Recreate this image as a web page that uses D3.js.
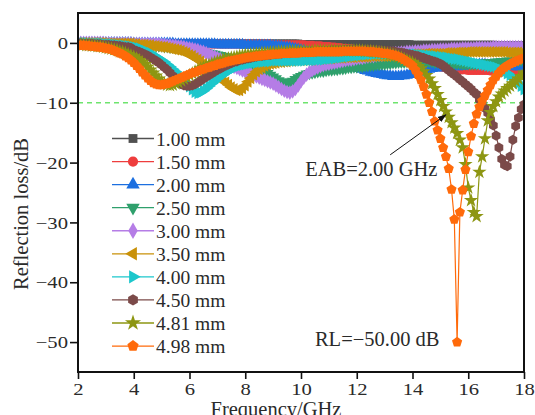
<!DOCTYPE html>
<html>
<head>
<meta charset="utf-8">
<script src="https://cdn.jsdelivr.net/npm/d3@7"></script>
<style>
  body { margin: 0; background: #fff; }
  svg { display: block; font-family: "Liberation Serif", "Times New Roman", serif; }
  .axis text { font-family: "Liberation Serif", serif; font-size: 17.5px; fill: #2a2a2a; transform-box: fill-box; transform: scaleX(1.18); }
  .y-axis text { transform-origin: right center; }
  .x-axis text { transform-origin: center; }
  .axis path, .axis line { stroke: #111; stroke-width: 1.6px; }
  .axis-title { font-size: 20.5px; fill: #2a2a2a; }
  .legend text { font-size: 19.5px; fill: #2a2a2a; }
  .note { font-size: 20.5px; fill: #2a2a2a; }
</style>
</head>
<body>
<div id="chart"></div>
<script>
// frequency sweep (GHz)
const freq = [
  2.0, 2.1, 2.2, 2.3, 2.4, 2.5, 2.6, 2.7, 2.8, 2.9,
  3.0, 3.1, 3.2, 3.3, 3.4, 3.5, 3.6, 3.7, 3.8, 3.9,
  4.0, 4.1, 4.2, 4.3, 4.4, 4.5, 4.6, 4.7, 4.8, 4.9,
  5.0, 5.1, 5.2, 5.3, 5.4, 5.5, 5.6, 5.7, 5.8, 5.9,
  6.0, 6.1, 6.2, 6.3, 6.4, 6.5, 6.6, 6.7, 6.8, 6.9,
  7.0, 7.1, 7.2, 7.3, 7.4, 7.5, 7.6, 7.7, 7.8, 7.9,
  8.0, 8.1, 8.2, 8.3, 8.4, 8.5, 8.6, 8.7, 8.8, 8.9,
  9.0, 9.1, 9.2, 9.3, 9.4, 9.5, 9.6, 9.7, 9.8, 9.9,
  10.0, 10.1, 10.2, 10.3, 10.4, 10.5, 10.6, 10.7, 10.8, 10.9,
  11.0, 11.1, 11.2, 11.3, 11.4, 11.5, 11.6, 11.7, 11.8, 11.9,
  12.0, 12.1, 12.2, 12.3, 12.4, 12.5, 12.6, 12.7, 12.8, 12.9,
  13.0, 13.1, 13.2, 13.3, 13.4, 13.5, 13.6, 13.7, 13.8, 13.9,
  14.0, 14.1, 14.2, 14.3, 14.4, 14.5, 14.6, 14.7, 14.8, 14.9,
  15.0, 15.1, 15.2, 15.3, 15.4, 15.5, 15.6, 15.7, 15.8, 15.9,
  16.0, 16.1, 16.2, 16.3, 16.4, 16.5, 16.6, 16.7, 16.8, 16.9,
  17.0, 17.1, 17.2, 17.3, 17.4, 17.5, 17.6, 17.7, 17.8, 17.9,
  18.0
];

// reflection loss (dB) for each thickness
const rl100 = [
  0, 0, 0, 0, 0, 0, 0, 0, 0, 0,
  0, 0, 0, 0, 0, 0, 0, 0, 0, 0,
  -0.1, -0.1, -0.1, -0.1, -0.1, -0.1, -0.1, -0.1, -0.1, -0.1,
  -0.1, -0.1, -0.1, -0.1, -0.1, -0.1, -0.1, -0.1, -0.1, -0.1,
  -0.1, -0.1, -0.1, -0.1, -0.1, -0.1, -0.1, -0.1, -0.1, -0.1,
  -0.1, -0.1, -0.1, -0.1, -0.1, -0.1, -0.1, -0.1, -0.1, -0.1,
  -0.1, -0.1, -0.1, -0.1, -0.1, -0.1, -0.1, -0.1, -0.1, -0.1,
  -0.1, -0.1, -0.1, -0.1, -0.1, -0.1, -0.1, -0.1, -0.1, -0.1,
  -0.2, -0.2, -0.2, -0.2, -0.2, -0.2, -0.2, -0.2, -0.2, -0.2,
  -0.2, -0.2, -0.2, -0.2, -0.2, -0.2, -0.2, -0.2, -0.2, -0.2,
  -0.2, -0.2, -0.2, -0.2, -0.2, -0.2, -0.2, -0.2, -0.2, -0.2,
  -0.2, -0.2, -0.2, -0.2, -0.2, -0.2, -0.2, -0.2, -0.2, -0.2,
  -0.3, -0.3, -0.3, -0.3, -0.3, -0.3, -0.3, -0.3, -0.3, -0.3,
  -0.3, -0.3, -0.3, -0.3, -0.3, -0.3, -0.3, -0.3, -0.3, -0.3,
  -0.3, -0.3, -0.3, -0.3, -0.3, -0.3, -0.3, -0.3, -0.3, -0.3,
  -0.4, -0.4, -0.4, -0.4, -0.4, -0.4, -0.4, -0.4, -0.4, -0.4,
  -0.4
];
const rl150 = [
  0, 0, 0, 0, 0, 0, 0, 0, 0, 0,
  -0.1, -0.1, -0.1, -0.1, -0.1, -0.1, -0.1, -0.1, -0.1, -0.1,
  -0.1, -0.1, -0.1, -0.1, -0.1, -0.1, -0.1, -0.1, -0.1, -0.1,
  -0.1, -0.1, -0.1, -0.1, -0.1, -0.1, -0.1, -0.1, -0.1, -0.1,
  -0.2, -0.2, -0.2, -0.2, -0.2, -0.2, -0.2, -0.2, -0.2, -0.2,
  -0.2, -0.2, -0.2, -0.2, -0.2, -0.2, -0.2, -0.2, -0.2, -0.2,
  -0.2, -0.2, -0.2, -0.2, -0.2, -0.2, -0.2, -0.2, -0.2, -0.2,
  -0.3, -0.3, -0.3, -0.3, -0.3, -0.3, -0.3, -0.3, -0.3, -0.3,
  -0.3, -0.3, -0.4, -0.4, -0.4, -0.5, -0.5, -0.5, -0.6, -0.6,
  -0.6, -0.7, -0.7, -0.8, -0.8, -0.9, -0.9, -1.0, -1.0, -1.1,
  -1.1, -1.2, -1.3, -1.3, -1.4, -1.5, -1.6, -1.7, -1.8, -1.9,
  -2.0, -2.1, -2.2, -2.3, -2.4, -2.5, -2.6, -2.7, -2.8, -2.9,
  -3.0, -3.1, -3.2, -3.3, -3.4, -3.5, -3.6, -3.7, -3.8, -3.9,
  -4.0, -4.1, -4.2, -4.3, -4.3, -4.4, -4.4, -4.5, -4.5, -4.5,
  -4.6, -4.6, -4.6, -4.6, -4.6, -4.6, -4.6, -4.6, -4.7, -4.7,
  -4.7, -4.7, -4.8, -4.8, -4.8, -4.9, -4.9, -5.0, -5.0, -5.1,
  -5.1
];
const rl200 = [
  0, 0, 0, 0, 0, 0, 0, 0, 0, 0,
  0, 0, 0, 0, 0, 0, 0, 0, 0, 0,
  -0.1, -0.1, -0.1, -0.1, -0.1, -0.1, -0.1, -0.1, -0.1, -0.1,
  -0.1, -0.1, -0.1, -0.1, -0.1, -0.2, -0.2, -0.2, -0.2, -0.2,
  -0.2, -0.2, -0.2, -0.2, -0.2, -0.2, -0.2, -0.2, -0.2, -0.2,
  -0.3, -0.3, -0.3, -0.3, -0.3, -0.3, -0.3, -0.3, -0.3, -0.3,
  -0.4, -0.4, -0.4, -0.4, -0.4, -0.4, -0.4, -0.4, -0.4, -0.4,
  -0.5, -0.5, -0.6, -0.6, -0.7, -0.7, -0.8, -0.9, -1.0, -1.1,
  -1.2, -1.3, -1.4, -1.5, -1.7, -1.8, -1.9, -2.1, -2.2, -2.4,
  -2.5, -2.7, -2.8, -3.0, -3.2, -3.3, -3.5, -3.7, -3.8, -4.0,
  -4.1, -4.3, -4.4, -4.6, -4.7, -4.9, -5.0, -5.1, -5.2, -5.3,
  -5.4, -5.5, -5.5, -5.6, -5.6, -5.6, -5.5, -5.5, -5.4, -5.3,
  -5.2, -5.0, -4.9, -4.7, -4.6, -4.5, -4.4, -4.3, -4.2, -4.2,
  -4.1, -4.1, -4.1, -4.1, -4.0, -4.0, -4.0, -3.9, -3.9, -3.8,
  -3.8, -3.7, -3.7, -3.7, -3.6, -3.6, -3.6, -3.7, -3.7, -3.7,
  -3.8, -3.8, -3.8, -3.9, -3.9, -3.9, -3.9, -4.0, -4.0, -4.0,
  -4.0
];
const rl250 = [
  0, 0, 0, 0, 0, 0, 0, 0, 0, 0,
  -0.1, -0.1, -0.1, -0.1, -0.1, -0.1, -0.1, -0.1, -0.1, -0.1,
  -0.2, -0.2, -0.3, -0.3, -0.3, -0.4, -0.4, -0.4, -0.5, -0.5,
  -0.5, -0.6, -0.6, -0.7, -0.7, -0.8, -0.8, -0.9, -0.9, -1.0,
  -1.0, -1.1, -1.2, -1.3, -1.4, -1.5, -1.6, -1.7, -1.8, -1.9,
  -2.0, -2.1, -2.2, -2.3, -2.4, -2.5, -2.7, -2.8, -2.9, -3.1,
  -3.2, -3.4, -3.6, -3.8, -4.0, -4.3, -4.5, -4.8, -5.1, -5.4,
  -5.7, -6.0, -6.3, -6.5, -6.7, -6.7, -6.6, -6.4, -6.1, -5.8,
  -5.6, -5.4, -5.2, -5.1, -5.0, -4.9, -4.8, -4.7, -4.7, -4.6,
  -4.5, -4.5, -4.4, -4.4, -4.3, -4.3, -4.2, -4.1, -4.1, -4.0,
  -4.0, -3.9, -3.9, -3.8, -3.8, -3.7, -3.7, -3.6, -3.6, -3.5,
  -3.5, -3.4, -3.4, -3.3, -3.3, -3.2, -3.2, -3.2, -3.1, -3.1,
  -3.1, -3.1, -3.1, -3.1, -3.1, -3.1, -3.1, -3.1, -3.2, -3.2,
  -3.2, -3.2, -3.3, -3.3, -3.3, -3.4, -3.4, -3.4, -3.5, -3.5,
  -3.5, -3.5, -3.5, -3.5, -3.4, -3.4, -3.4, -3.3, -3.3, -3.3,
  -3.2, -3.2, -3.1, -3.1, -3.0, -3.0, -3.0, -2.9, -2.9, -2.9,
  -2.8
];
const rl300 = [
  0, 0, 0, 0, 0, 0, 0, 0, 0, 0,
  -0.1, -0.1, -0.1, -0.1, -0.1, -0.1, -0.1, -0.1, -0.1, -0.1,
  -0.2, -0.2, -0.2, -0.2, -0.2, -0.2, -0.2, -0.2, -0.2, -0.2,
  -0.3, -0.3, -0.4, -0.4, -0.5, -0.5, -0.6, -0.6, -0.7, -0.8,
  -0.9, -1.0, -1.1, -1.2, -1.4, -1.5, -1.7, -1.9, -2.1, -2.3,
  -2.5, -2.7, -3.0, -3.2, -3.5, -3.7, -4.0, -4.2, -4.4, -4.6,
  -4.8, -5.0, -5.2, -5.4, -5.6, -5.8, -6.0, -6.2, -6.4, -6.6,
  -6.8, -7.1, -7.4, -7.7, -8.0, -8.2, -8.3, -8.1, -7.7, -7.1,
  -6.4, -5.8, -5.3, -4.9, -4.6, -4.3, -4.1, -3.9, -3.7, -3.6,
  -3.5, -3.4, -3.3, -3.2, -3.1, -3.0, -2.9, -2.8, -2.8, -2.7,
  -2.6, -2.5, -2.5, -2.4, -2.3, -2.2, -2.2, -2.1, -2.0, -2.0,
  -1.9, -1.9, -1.8, -1.8, -1.7, -1.7, -1.6, -1.6, -1.5, -1.5,
  -1.5, -1.4, -1.4, -1.4, -1.3, -1.3, -1.3, -1.2, -1.2, -1.2,
  -1.1, -1.1, -1.1, -1.1, -1.0, -1.0, -1.0, -1.0, -0.9, -0.9,
  -0.9, -0.9, -0.9, -0.8, -0.8, -0.8, -0.8, -0.8, -0.8, -0.7,
  -0.7, -0.7, -0.7, -0.7, -0.7, -0.7, -0.7, -0.7, -0.7, -0.7,
  -0.7
];
const rl350 = [
  0, 0, 0, 0, 0, 0, 0, 0, 0, 0,
  -0.1, -0.1, -0.1, -0.1, -0.1, -0.1, -0.1, -0.1, -0.1, -0.1,
  -0.2, -0.2, -0.3, -0.3, -0.3, -0.4, -0.4, -0.5, -0.5, -0.6,
  -0.7, -0.7, -0.8, -0.9, -1.0, -1.1, -1.2, -1.3, -1.5, -1.7,
  -2.0, -2.2, -2.5, -2.8, -3.1, -3.5, -3.8, -4.2, -4.6, -5.0,
  -5.4, -5.8, -6.2, -6.6, -7.0, -7.4, -7.7, -7.9, -7.9, -7.6,
  -7.1, -6.5, -5.9, -5.3, -4.8, -4.4, -4.1, -3.8, -3.6, -3.5,
  -3.4, -3.3, -3.2, -3.2, -3.1, -3.1, -3.0, -3.0, -2.9, -2.9,
  -2.9, -2.9, -2.8, -2.8, -2.8, -2.7, -2.7, -2.7, -2.6, -2.6,
  -2.6, -2.6, -2.5, -2.5, -2.5, -2.5, -2.4, -2.4, -2.4, -2.4,
  -2.3, -2.3, -2.3, -2.3, -2.3, -2.2, -2.2, -2.2, -2.2, -2.2,
  -2.2, -2.2, -2.1, -2.1, -2.1, -2.1, -2.0, -2.0, -2.0, -2.0,
  -1.9, -1.9, -1.9, -1.9, -1.9, -1.8, -1.8, -1.8, -1.8, -1.8,
  -1.8, -1.8, -1.7, -1.7, -1.7, -1.7, -1.6, -1.6, -1.6, -1.6,
  -1.5, -1.5, -1.5, -1.5, -1.5, -1.5, -1.5, -1.5, -1.5, -1.5,
  -1.5, -1.5, -1.5, -1.5, -1.6, -1.6, -1.6, -1.6, -1.6, -1.7,
  -1.7
];
const rl400 = [
  0, 0, 0, 0, -0.1, -0.1, -0.1, -0.1, -0.1, -0.1,
  -0.2, -0.2, -0.2, -0.3, -0.3, -0.4, -0.4, -0.5, -0.5, -0.6,
  -0.7, -0.8, -0.9, -1.1, -1.3, -1.5, -1.7, -2.0, -2.3, -2.6,
  -2.9, -3.2, -3.6, -4.0, -4.4, -4.8, -5.3, -5.8, -6.3, -6.8,
  -7.3, -7.8, -8.2, -8.4, -8.3, -8.0, -7.6, -7.2, -6.8, -6.4,
  -6.0, -5.6, -5.3, -5.0, -4.7, -4.4, -4.2, -4.0, -3.8, -3.7,
  -3.6, -3.5, -3.4, -3.3, -3.3, -3.2, -3.2, -3.1, -3.1, -3.1,
  -3.0, -3.0, -3.0, -3.0, -3.0, -3.0, -3.0, -3.0, -3.0, -3.0,
  -3.0, -3.0, -2.9, -2.9, -2.9, -2.9, -2.8, -2.8, -2.8, -2.7,
  -2.7, -2.6, -2.6, -2.5, -2.5, -2.4, -2.3, -2.3, -2.2, -2.2,
  -2.1, -2.1, -2.0, -2.0, -1.9, -1.9, -1.9, -1.8, -1.8, -1.8,
  -1.8, -1.8, -1.8, -1.8, -1.8, -1.8, -1.8, -1.8, -1.9, -1.9,
  -1.9, -1.9, -2.0, -2.0, -2.0, -2.1, -2.1, -2.2, -2.2, -2.3,
  -2.3, -2.4, -2.4, -2.5, -2.6, -2.7, -2.7, -2.8, -2.9, -3.0,
  -3.1, -3.2, -3.3, -3.4, -3.5, -3.6, -3.7, -3.8, -3.9, -4.0,
  -4.1, -4.3, -4.5, -4.8, -5.1, -5.4, -5.8, -6.2, -6.7, -7.2,
  -7.8
];
const rl450 = [
  0, 0, -0.1, -0.1, -0.1, -0.1, -0.2, -0.2, -0.2, -0.3,
  -0.3, -0.3, -0.4, -0.4, -0.5, -0.5, -0.6, -0.7, -0.7, -0.8,
  -1.2, -1.3, -1.5, -1.7, -1.9, -2.1, -2.4, -2.7, -3.0, -3.3,
  -3.7, -4.1, -4.5, -5.0, -5.5, -6.0, -6.5, -6.9, -7.1, -7.2,
  -7.2, -7.1, -6.9, -6.6, -6.3, -6.0, -5.7, -5.4, -5.1, -4.8,
  -4.5, -4.3, -4.0, -3.8, -3.6, -3.4, -3.2, -3.1, -2.9, -2.8,
  -2.7, -2.6, -2.5, -2.4, -2.3, -2.2, -2.2, -2.1, -2.0, -2.0,
  -1.9, -1.9, -1.8, -1.8, -1.7, -1.7, -1.7, -1.6, -1.6, -1.6,
  -1.5, -1.5, -1.5, -1.4, -1.4, -1.4, -1.4, -1.3, -1.3, -1.3,
  -1.3, -1.2, -1.2, -1.2, -1.2, -1.2, -1.1, -1.1, -1.1, -1.1,
  -1.1, -1.1, -1.1, -1.1, -1.1, -1.1, -1.2, -1.2, -1.2, -1.3,
  -1.3, -1.3, -1.4, -1.4, -1.5, -1.6, -1.6, -1.7, -1.8, -1.9,
  -2.0, -2.1, -2.2, -2.4, -2.5, -2.7, -2.8, -3.0, -3.1, -3.3,
  -3.5, -3.8, -4.2, -4.6, -5.0, -5.3, -5.7, -6.1, -6.5, -6.9,
  -7.3, -7.7, -8.2, -8.6, -9.5, -10.2, -10.9, -11.7, -12.9, -13.8,
  -15.5, -17.5, -19.4, -20.4, -20.6, -19.0, -16.2, -13.9, -12.5, -11.1,
  -10.3
];
const rl481 = [
  -0.2, -0.3, -0.3, -0.4, -0.4, -0.5, -0.5, -0.6, -0.6, -0.7,
  -0.8, -0.9, -1.0, -1.1, -1.2, -1.4, -1.5, -1.7, -1.9, -2.1,
  -2.3, -2.6, -2.9, -3.2, -3.6, -4.0, -4.5, -5.0, -5.5, -6.0,
  -6.4, -6.8, -7.0, -7.1, -7.0, -6.8, -6.6, -6.3, -6.0, -5.7,
  -5.4, -5.1, -4.8, -4.6, -4.3, -4.1, -3.9, -3.7, -3.5, -3.3,
  -3.1, -3.0, -2.8, -2.7, -2.6, -2.5, -2.4, -2.3, -2.2, -2.1,
  -2.0, -2.0, -1.9, -1.9, -1.8, -1.8, -1.7, -1.7, -1.7, -1.6,
  -1.6, -1.6, -1.5, -1.5, -1.5, -1.5, -1.4, -1.4, -1.4, -1.4,
  -1.4, -1.4, -1.4, -1.4, -1.4, -1.3, -1.3, -1.3, -1.3, -1.3,
  -1.3, -1.3, -1.3, -1.3, -1.3, -1.3, -1.3, -1.3, -1.3, -1.3,
  -1.3, -1.3, -1.3, -1.4, -1.4, -1.4, -1.5, -1.5, -1.6, -1.6,
  -1.7, -1.8, -1.9, -2.0, -2.1, -2.3, -2.5, -2.7, -2.9, -3.1,
  -3.3, -3.6, -3.9, -4.3, -4.8, -5.4, -6.0, -6.8, -7.6, -8.6,
  -9.6, -10.6, -11.5, -12.4, -13.3, -14.2, -15.1, -16.2, -17.5, -20.3,
  -24.2, -26.3, -28.3, -29.0, -21.6, -19.0, -16.0, -13.0, -11.6, -10.6,
  -9.8, -9.0, -8.5, -8.0, -7.6, -7.2, -6.8, -6.4, -6.0, -5.6,
  -5.0
];
const rl498 = [
  -0.4, -0.4, -0.4, -0.5, -0.5, -0.6, -0.6, -0.7, -0.7, -0.8,
  -0.9, -1.0, -1.1, -1.3, -1.5, -1.7, -1.9, -2.2, -2.5, -2.9,
  -3.3, -3.8, -4.3, -4.9, -5.4, -5.9, -6.3, -6.7, -6.9, -7.0,
  -7.0, -6.9, -6.8, -6.6, -6.4, -6.2, -6.0, -5.8, -5.6, -5.4,
  -5.2, -5.0, -4.9, -4.7, -4.5, -4.4, -4.2, -4.1, -3.9, -3.8,
  -3.6, -3.5, -3.4, -3.2, -3.1, -3.0, -2.9, -2.8, -2.7, -2.6,
  -2.5, -2.4, -2.4, -2.3, -2.2, -2.2, -2.1, -2.1, -2.0, -2.0,
  -1.9, -1.9, -1.9, -1.8, -1.8, -1.8, -1.7, -1.7, -1.7, -1.7,
  -1.6, -1.6, -1.6, -1.6, -1.6, -1.5, -1.5, -1.5, -1.5, -1.5,
  -1.5, -1.5, -1.5, -1.5, -1.5, -1.4, -1.4, -1.4, -1.4, -1.4,
  -1.4, -1.4, -1.4, -1.4, -1.5, -1.5, -1.5, -1.6, -1.6, -1.7,
  -1.8, -1.8, -1.9, -2.0, -2.1, -2.3, -2.5, -2.8, -3.1, -3.4,
  -3.8, -4.5, -5.3, -6.2, -7.3, -8.6, -10.0, -11.5, -13.1, -14.6,
  -16.0, -17.5, -19.0, -21.0, -24.5, -29.5, -50.0, -28.3, -24.6, -21.2,
  -18.2, -15.6, -13.5, -11.9, -10.7, -9.7, -8.8, -7.9, -7.0, -6.2,
  -5.6, -5.0, -4.5, -4.1, -3.8, -3.5, -3.3, -3.1, -2.9, -2.7,
  -2.6
];

const thicknessLabels = ['1.00 mm', '1.50 mm', '2.00 mm', '2.50 mm', '3.00 mm',
  '3.50 mm', '4.00 mm', '4.50 mm', '4.81 mm', '4.98 mm'];
const seriesValues = [rl100, rl150, rl200, rl250, rl300, rl350, rl400, rl450, rl481, rl498];
const yTicks = [0, -10, -20, -30, -40, -50];
const xTicks = [2, 4, 6, 8, 10, 12, 14, 16, 18];

const colors = ['#505050', '#ee3d3d', '#1c6fe0', '#2fa06c', '#b57de6',
  '#c99108', '#1cc7cc', '#7b4a49', '#8d9612', '#ff6a0a'];

// custom polygon markers (pentagon / hexagon) for d3.symbol
const polygon = (n, k) => ({
  draw(context, size) {
    const r = Math.sqrt(size / k);
    for (let i = 0; i < n; i++) {
      const a = -Math.PI / 2 + i * 2 * Math.PI / n;
      if (i === 0) context.moveTo(r * Math.cos(a), r * Math.sin(a));
      else context.lineTo(r * Math.cos(a), r * Math.sin(a));
    }
    context.closePath();
  }
});
const markers = [
  { type: d3.symbolSquare, size: 62, rotate: 0 },
  { type: d3.symbolCircle, size: 66, rotate: 0 },
  { type: d3.symbolTriangle, size: 62, rotate: 0 },
  { type: d3.symbolTriangle, size: 62, rotate: 180 },
  { type: d3.symbolDiamond, size: 62, rotate: 0 },
  { type: d3.symbolTriangle, size: 62, rotate: -90 },
  { type: d3.symbolTriangle, size: 62, rotate: 90 },
  { type: polygon(6, 2.598), size: 66, rotate: 0 },
  { type: d3.symbolStar, size: 64, rotate: 0 },
  { type: polygon(5, 2.378), size: 68, rotate: 0 },
];

const width = 535, height = 415;
const plot = { left: 78, right: 524, top: 13, bottom: 372 };

const svg = d3.select('#chart').append('svg')
  .attr('width', width)
  .attr('height', height)
  .attr('viewBox', `0 0 ${width} ${height}`);

const x = d3.scaleLinear().domain([2, 18]).range([plot.left, plot.right]);
const y = d3.scaleLinear().domain([-55, 5]).range([plot.bottom, plot.top]);

svg.append('defs').append('clipPath').attr('id', 'plot-clip')
  .append('rect')
  .attr('x', plot.left).attr('y', plot.top)
  .attr('width', plot.right - plot.left).attr('height', plot.bottom - plot.top);

// -10 dB reference line
svg.append('line')
  .attr('x1', x(2)).attr('x2', x(18))
  .attr('y1', y(-10)).attr('y2', y(-10))
  .attr('stroke', '#6ee46e')
  .attr('stroke-width', 1.3)
  .attr('stroke-dasharray', '5,4');

const curves = svg.append('g').attr('clip-path', 'url(#plot-clip)');
const line = d3.line().x(d => x(d[0])).y(d => y(d[1]));

seriesValues.forEach((vals, i) => {
  const pts = freq.map((f, j) => [f, vals[j]]);
  const g = curves.append('g');
  g.append('path')
    .attr('d', line(pts))
    .attr('fill', 'none')
    .attr('stroke', colors[i])
    .attr('stroke-width', 1.2);
  const sym = d3.symbol().type(markers[i].type).size(markers[i].size);
  g.selectAll('path.pt')
    .data(pts)
    .join('path')
    .attr('class', 'pt')
    .attr('d', sym)
    .attr('transform', d => `translate(${x(d[0])},${y(d[1])}) rotate(${markers[i].rotate})`)
    .attr('fill', colors[i]);
});

// frame
svg.append('rect')
  .attr('x', plot.left).attr('y', plot.top)
  .attr('width', plot.right - plot.left).attr('height', plot.bottom - plot.top)
  .attr('fill', 'none')
  .attr('stroke', '#111')
  .attr('stroke-width', 2);

const xAxisG = svg.append('g')
  .attr('class', 'axis x-axis')
  .attr('transform', `translate(0,${plot.bottom})`)
  .call(d3.axisBottom(x).tickValues(xTicks).tickSize(7).tickPadding(4).tickFormat(d3.format('d')));
xAxisG.select('.domain').remove();

const yAxisG = svg.append('g')
  .attr('class', 'axis y-axis')
  .attr('transform', `translate(${plot.left},0)`)
  .call(d3.axisLeft(y).tickValues(yTicks).tickSize(8).tickPadding(2).tickFormat(d3.format('d')));
yAxisG.select('.domain').remove();

svg.append('text')
  .attr('class', 'axis-title')
  .attr('x', 276)
  .attr('y', 416)
  .attr('text-anchor', 'middle')
  .text('Frequency/GHz');

svg.append('text')
  .attr('class', 'axis-title')
  .attr('transform', 'translate(28,214) rotate(-90)')
  .attr('text-anchor', 'middle')
  .text('Reflection loss/dB');

// legend
const legend = svg.append('g').attr('class', 'legend');
thicknessLabels.forEach((label, i) => {
  const row = legend.append('g').attr('transform', `translate(0,${138.5 + i * 23.06})`);
  row.append('line')
    .attr('x1', 112).attr('x2', 154)
    .attr('stroke', colors[i]).attr('stroke-width', 1.3);
  row.append('path')
    .attr('d', d3.symbol().type(markers[i].type).size(markers[i].size + 16)())
    .attr('transform', `translate(133,0) rotate(${markers[i].rotate})`)
    .attr('fill', colors[i]);
  row.append('text')
    .attr('x', 156)
    .attr('y', 7)
    .text(label);
});

// annotations
svg.append('defs').append('marker')
  .attr('id', 'arrow')
  .attr('viewBox', '0 0 10 10')
  .attr('refX', 9).attr('refY', 5)
  .attr('markerWidth', 9).attr('markerHeight', 9)
  .attr('orient', 'auto')
  .append('path')
  .attr('d', 'M0,1.5 L10,5 L0,8.5 Z')
  .attr('fill', '#111');

svg.append('line')
  .attr('x1', x(13.2)).attr('y1', y(-18.7))
  .attr('x2', x(15.2)).attr('y2', y(-12))
  .attr('stroke', '#111')
  .attr('stroke-width', 1)
  .attr('marker-end', 'url(#arrow)');

svg.append('text')
  .attr('class', 'note')
  .attr('x', x(10.15))
  .attr('y', y(-22.3))
  .text('EAB=2.00 GHz');

svg.append('text')
  .attr('class', 'note')
  .attr('x', x(10.5))
  .attr('y', y(-50.7))
  .text('RL=\u221250.00 dB');
</script>
</body>
</html>
